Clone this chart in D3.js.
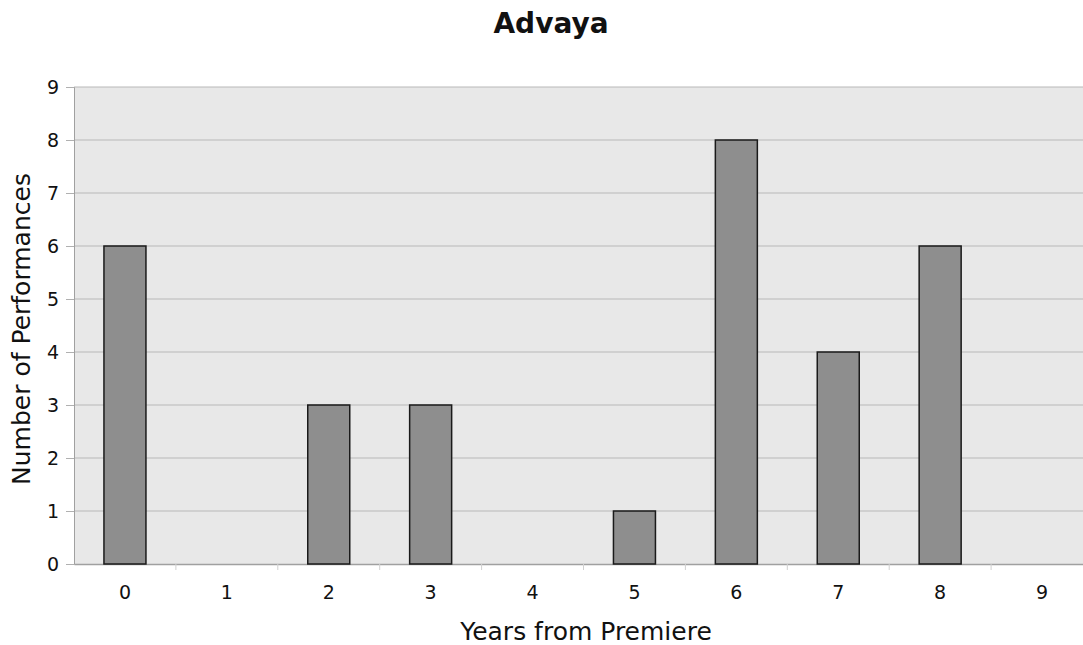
<!DOCTYPE html>
<html>
<head>
<meta charset="utf-8">
<script src="https://cdn.jsdelivr.net/npm/d3@7"></script>
<style>
  html, body { margin: 0; padding: 0; background: #fff; }
  svg { display: block; font-family: "DejaVu Sans", Verdana, sans-serif; }
</style>
</head>
<body>
<svg id="chart" width="1083" height="645"></svg>
<script>
const years = ["0", "1", "2", "3", "4", "5", "6", "7", "8", "9"];
const performances = [6, 0, 3, 3, 0, 1, 8, 4, 6, 0];
const yTicks = [0, 1, 2, 3, 4, 5, 6, 7, 8, 9];

const svg = d3.select("#chart");
const plot = { left: 74, right: 1093, top: 87, bottom: 564 };

const x = d3.scaleBand().domain(years).range([plot.left, plot.right]).paddingInner(0).paddingOuter(0);
const y = d3.scaleLinear().domain([0, 9]).range([plot.bottom, plot.top]);

// plot background
svg.append("rect")
  .attr("x", plot.left).attr("y", plot.top)
  .attr("width", plot.right - plot.left).attr("height", plot.bottom - plot.top)
  .attr("fill", "#e8e8e8");

// horizontal gridlines
svg.append("g").selectAll("line").data(yTicks.filter(d => d > 0)).join("line")
  .attr("x1", plot.left).attr("x2", plot.right)
  .attr("y1", d => y(d)).attr("y2", d => y(d))
  .attr("stroke", "#b8b8b8").attr("stroke-width", 1);

// y axis
const yAxis = svg.append("g").attr("transform", `translate(${plot.left},0)`)
  .call(d3.axisLeft(y).tickValues(yTicks).tickSize(8).tickPadding(7).tickFormat(d3.format("d")));
yAxis.select(".domain").attr("stroke", "#a0a0a0");
yAxis.selectAll(".tick line").attr("stroke", "#b0b0b0");
yAxis.selectAll(".tick text").attr("font-size", 19).attr("fill", "#111")
  .attr("font-family", "DejaVu Sans, Verdana, sans-serif");

// x axis
const xAxis = svg.append("g").attr("transform", `translate(0,${plot.bottom})`)
  .call(d3.axisBottom(x).tickSize(0).tickPadding(22));
xAxis.select(".domain").attr("stroke", "#a0a0a0").attr("stroke-width", 1.5);
xAxis.selectAll(".tick text").attr("font-size", 19).attr("fill", "#111")
  .attr("font-family", "DejaVu Sans, Verdana, sans-serif");

// small separators between categories
svg.append("g").selectAll("line").data(years.slice(1)).join("line")
  .attr("x1", d => x(d)).attr("x2", d => x(d))
  .attr("y1", plot.bottom).attr("y2", plot.bottom + 6)
  .attr("stroke", "#d0d0d0");

// bars
const barW = 42;
svg.append("g").selectAll("rect").data(years.map((k, i) => ({ k, v: performances[i] })).filter(d => d.v > 0))
  .join("rect")
  .attr("x", d => x(d.k) + x.bandwidth() / 2 - barW / 2)
  .attr("y", d => y(d.v))
  .attr("width", barW)
  .attr("height", d => y(0) - y(d.v))
  .attr("fill", "#8e8e8e")
  .attr("stroke", "#1a1a1a")
  .attr("stroke-width", 1.5);

// title
svg.append("text")
  .attr("x", 551).attr("y", 33)
  .attr("text-anchor", "middle")
  .attr("font-size", 28).attr("font-weight", "bold").attr("fill", "#111")
  .text("Advaya");

// axis titles
svg.append("text")
  .attr("x", 586).attr("y", 640)
  .attr("text-anchor", "middle")
  .attr("font-size", 25).attr("fill", "#111")
  .text("Years from Premiere");

svg.append("text")
  .attr("transform", "translate(30,329) rotate(-90)")
  .attr("text-anchor", "middle")
  .attr("font-size", 25).attr("fill", "#111")
  .text("Number of Performances");
</script>
</body>
</html>
